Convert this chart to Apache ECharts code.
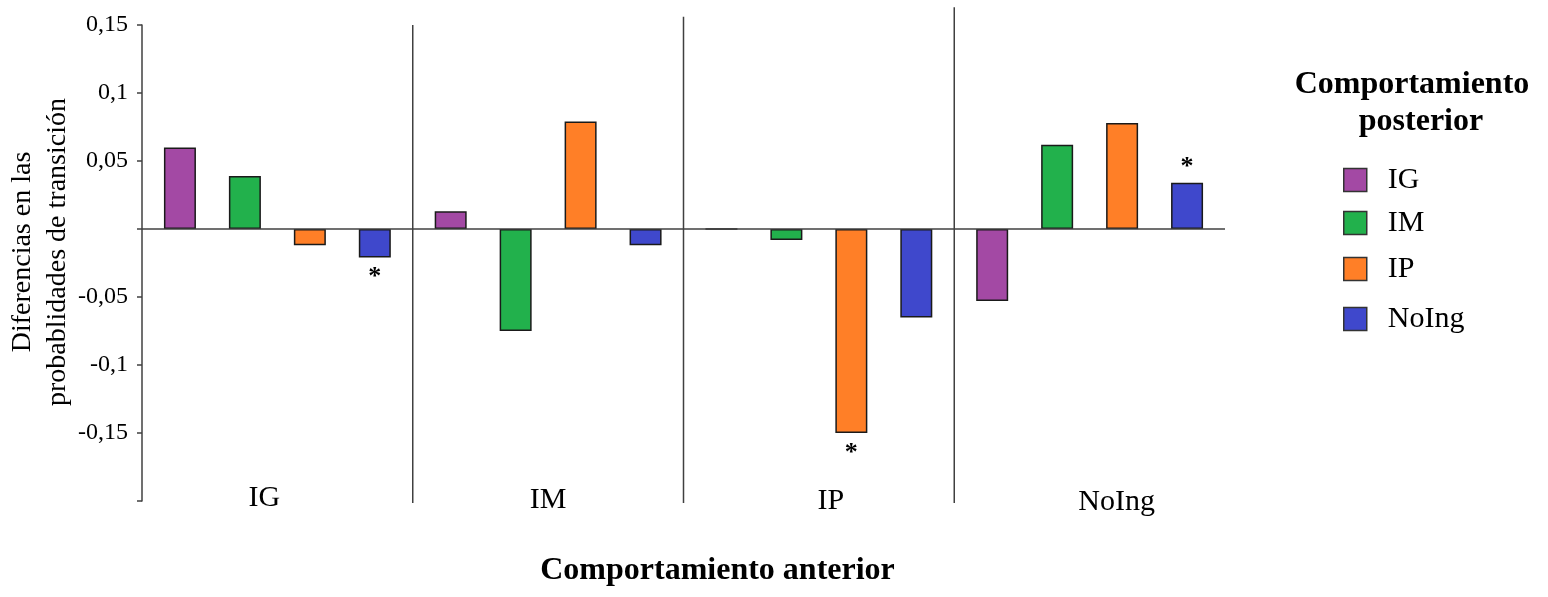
<!DOCTYPE html>
<html>
<head>
<meta charset="utf-8">
<script src="https://cdn.jsdelivr.net/npm/echarts@6/dist/echarts.min.js"></script>
<style>
  html, body { margin: 0; padding: 0; background: #ffffff; }
  #chart { width: 1548px; height: 597px; }
</style>
</head>
<body>
<div id="chart"></div>
<script>
// Preceding behaviour (groups on the x axis) and following behaviour (series)
const categories = ['IG', 'IM', 'IP', 'NoIng'];
const seriesNames = ['IG', 'IM', 'IP', 'NoIng'];

// Differences in transition probabilities, one array per following behaviour
const valuesIG    = [0.060,  0.013,  0.000, -0.053];
const valuesIM    = [0.039, -0.075, -0.008,  0.062];
const valuesIP    = [-0.012, 0.079, -0.150,  0.078];
const valuesNoIng = [-0.021, -0.012, -0.065, 0.034];

// Significant differences (marked with an asterisk)
const starsIG    = [false, false, false, false];
const starsIM    = [false, false, false, false];
const starsIP    = [false, false, true,  false];
const starsNoIng = [true,  false, false, true];

// Value-axis tick labels (decimal comma)
const yTickValues = [-0.15, -0.1, -0.05, 0.05, 0.1, 0.15];
const yTickLabels = ['-0,15', '-0,1', '-0,05', '0,05', '0,1', '0,15'];

const seriesValues = [valuesIG, valuesIM, valuesIP, valuesNoIng];
const seriesStars = [starsIG, starsIM, starsIP, starsNoIng];
const colors = ['#A349A4', '#22B14C', '#FF7F27', '#3F48CC'];

const SERIF = '"Liberation Serif", "Times New Roman", serif';
const AXIS_COLOR = '#404040';

// Layout tweaks for the group labels, the separators and the legend rows
const categoryLabelShift = [[-13, 0], [0, 2], [12, 3], [27, 4]];
const separatorTops = [0.150, 0.156, 0.163];
const separatorBottom = -0.2015;
const legendTops = [165, 208, 254, 304];

const chart = echarts.init(document.getElementById('chart'), null, { renderer: 'canvas' });

function tickLabel(v) {
  for (let i = 0; i < yTickValues.length; i++) {
    if (Math.abs(v - yTickValues[i]) < 1e-9) return yTickLabels[i];
  }
  return '';
}

const barSeries = seriesNames.map((name, i) => ({
  name: name,
  type: 'bar',
  xAxisIndex: 0,
  yAxisIndex: 0,
  barWidth: 32,
  barGap: '103%',
  itemStyle: { color: colors[i], borderColor: '#1a1a1a', borderWidth: 1.5 },
  emphasis: { disabled: true },
  z: 2,
  data: seriesValues[i].map((v, j) => {
    if (!seriesStars[i][j]) return v;
    return {
      value: v,
      label: {
        show: true,
        formatter: '*',
        position: v < 0 ? 'bottom' : 'top',
        distance: v < 0 ? 7 : 2,
        fontFamily: SERIF,
        fontWeight: 'bold',
        fontSize: 26,
        lineHeight: 26,
        color: '#000'
      }
    };
  })
}));

// Zero baseline across the plot, on a hidden helper axis spanning the groups
const baselineSeries = {
  type: 'line',
  xAxisIndex: 1,
  yAxisIndex: 0,
  data: [],
  silent: true,
  z: 3,
  markLine: {
    silent: true,
    animation: false,
    symbol: ['none', 'none'],
    label: { show: false },
    emphasis: { disabled: true },
    lineStyle: { color: AXIS_COLOR, width: 1.5, type: 'solid' },
    data: [[{ coord: [0, 0] }, { coord: [4, 0] }]]
  }
};

// Vertical separators between the groups
const separatorSeries = {
  type: 'custom',
  xAxisIndex: 1,
  yAxisIndex: 0,
  silent: true,
  clip: false,
  z: 3,
  data: [1, 2, 3].map((x, k) => [x, separatorTops[k], separatorBottom]),
  encode: { x: 0, y: [1, 2] },
  renderItem: function (params, api) {
    const p1 = api.coord([api.value(0), api.value(1)]);
    const p2 = api.coord([api.value(0), api.value(2)]);
    return {
      type: 'line',
      shape: { x1: p1[0], y1: p1[1], x2: p2[0], y2: p2[1] },
      style: { stroke: AXIS_COLOR, lineWidth: 1.5 }
    };
  }
};

const option = {
  animation: false,
  backgroundColor: '#ffffff',
  grid: { left: 142, right: 323, top: 25, bottom: 96, containLabel: false, outerBoundsMode: 'none' },
  xAxis: [
    {
      type: 'category',
      data: categories.map((c, i) => ({
        value: c,
        textStyle: {
          padding: [
            categoryLabelShift[i][1],
            categoryLabelShift[i][0] < 0 ? -2 * categoryLabelShift[i][0] : 0,
            0,
            categoryLabelShift[i][0] > 0 ? 2 * categoryLabelShift[i][0] : 0
          ]
        }
      })),
      position: 'bottom',
      boundaryGap: true,
      axisLine: { show: false },
      axisTick: { show: false },
      splitLine: { show: false },
      axisLabel: {
        margin: -18,
        fontFamily: SERIF,
        fontSize: 30,
        color: '#000'
      },
      name: 'Comportamiento anterior',
      nameLocation: 'middle',
      nameGap: 54,
      nameMoveOverlap: false,
      nameTextStyle: {
        fontFamily: SERIF,
        fontWeight: 'bold',
        fontSize: 32,
        lineHeight: 32,
        color: '#000',
        padding: [0, 0, 0, 68]
      }
    },
    {
      type: 'value',
      min: 0,
      max: 4,
      show: false,
      position: 'top'
    }
  ],
  yAxis: {
    type: 'value',
    min: -0.2,
    max: 0.15,
    interval: 0.05,
    axisLine: { show: true, lineStyle: { color: AXIS_COLOR, width: 1.5 } },
    axisTick: { show: true, length: 5, lineStyle: { color: AXIS_COLOR, width: 1.5 } },
    splitLine: { show: false },
    axisLabel: {
      margin: 14,
      fontFamily: SERIF,
      fontSize: 24,
      color: '#000',
      formatter: tickLabel
    },
    name: 'Diferencias en las\nprobablidades de transición',
    nameLocation: 'middle',
    nameRotate: 90,
    nameGap: 67,
    nameMoveOverlap: false,
    nameTextStyle: {
      fontFamily: SERIF,
      fontSize: 28,
      lineHeight: 35,
      color: '#000',
      align: 'center',
      padding: [0, 0, 0, 22]
    }
  },
  legend: seriesNames.map((name, i) => ({
    data: [name],
    left: 1343,
    top: legendTops[i],
    padding: 0,
    orient: 'vertical',
    icon: 'rect',
    itemWidth: 23,
    itemHeight: 23,
    selectedMode: false,
    itemStyle: { borderColor: '#333333', borderWidth: 1.5 },
    textStyle: {
      fontFamily: SERIF,
      fontSize: 30,
      lineHeight: 30,
      color: '#000',
      padding: [0, 0, 0, 16]
    }
  })),
  graphic: [
    {
      type: 'text',
      x: 1412,
      y: 66,
      style: {
        text: 'Comportamiento',
        fontFamily: SERIF,
        fontWeight: 'bold',
        fontSize: 32,
        lineHeight: 37,
        align: 'center',
        verticalAlign: 'top',
        fill: '#000'
      }
    },
    {
      type: 'text',
      x: 1421,
      y: 103,
      style: {
        text: 'posterior',
        fontFamily: SERIF,
        fontWeight: 'bold',
        fontSize: 32,
        lineHeight: 37,
        align: 'center',
        verticalAlign: 'top',
        fill: '#000'
      }
    }
  ],
  series: barSeries.concat([baselineSeries, separatorSeries])
};

chart.setOption(option);
</script>
</body>
</html>
